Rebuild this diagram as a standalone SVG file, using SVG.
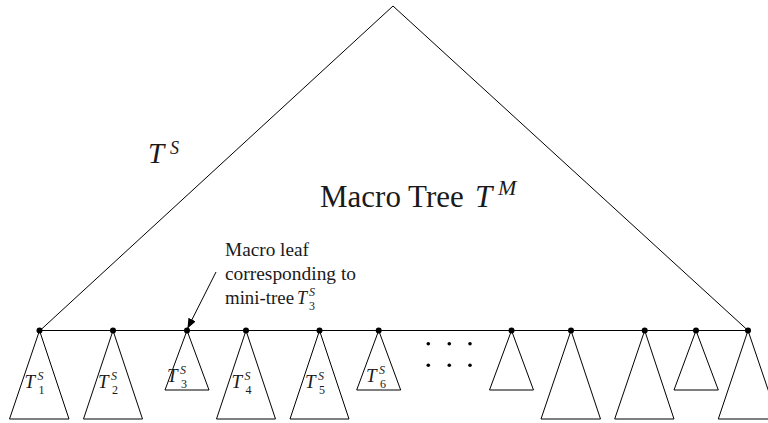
<svg xmlns="http://www.w3.org/2000/svg" width="768" height="423" viewBox="0 0 768 423">
<defs>
<style>
.ln{fill:none;stroke:#000;stroke-width:1;stroke-linejoin:miter}
.dot{fill:#000}
.t{font-family:"Liberation Serif","Times New Roman",serif;fill:#1a1a1a}
.sm{font-size:18px}
.lbl{font-size:19px;font-style:italic}
.sup{font-size:12px;font-style:italic}
.sub{font-size:12px;font-style:normal}
</style>
<marker id="ah" markerWidth="10" markerHeight="8" refX="10" refY="4" orient="auto" markerUnits="userSpaceOnUse">
<path d="M0,0 L10,4 L0,8 Z" fill="#000"/>
</marker>
</defs>
<rect width="768" height="423" fill="#fff"/>

<g id="macro-tree">
<path class="ln" d="M40,330.5 L393,6 L748,330.5 Z"/>
<text class="t"><tspan x="148" y="163" style="font-size:29px;font-style:italic">T</tspan><tspan x="170" y="154" style="font-size:18px;font-style:italic">S</tspan></text>
<text class="t"><tspan x="320" y="206.5" style="font-size:31px">Macro Tree</tspan><tspan x="475" y="206.5" style="font-size:31px;font-style:italic">T</tspan><tspan x="498" y="195" style="font-size:22px;font-style:italic">M</tspan></text>
</g>

<g id="mini-1">
<path class="ln" d="M39.5,330.5 L9.5,419 L69,419 Z"/>
<circle class="dot" cx="39.5" cy="330.5" r="3"/>
<text class="t"><tspan class="lbl" x="24.5" y="388">T</tspan><tspan class="sup" x="37.5" y="379.5">S</tspan><tspan class="sub" x="38.5" y="393.5">1</tspan></text>
</g>
<g id="mini-2">
<path class="ln" d="M113,330.5 L83.5,419 L142.5,419 Z"/>
<circle class="dot" cx="113" cy="330.5" r="3"/>
<text class="t"><tspan class="lbl" x="98" y="388">T</tspan><tspan class="sup" x="111" y="379.5">S</tspan><tspan class="sub" x="112" y="393.5">2</tspan></text>
</g>
<g id="mini-3">
<path class="ln" d="M187,330.5 L165,390 L209,390 Z"/>
<circle class="dot" cx="187" cy="330.5" r="3"/>
<text class="t"><tspan class="lbl" x="167" y="382">T</tspan><tspan class="sup" x="180" y="373.5">S</tspan><tspan class="sub" x="181" y="387.5">3</tspan></text>
</g>
<g id="mini-4">
<path class="ln" d="M246,330.5 L216.5,419 L275.5,419 Z"/>
<circle class="dot" cx="246" cy="330.5" r="3"/>
<text class="t"><tspan class="lbl" x="231.5" y="388">T</tspan><tspan class="sup" x="244.5" y="379.5">S</tspan><tspan class="sub" x="245.5" y="393.5">4</tspan></text>
</g>
<g id="mini-5">
<path class="ln" d="M319.5,330.5 L290,419 L349,419 Z"/>
<circle class="dot" cx="319.5" cy="330.5" r="3"/>
<text class="t"><tspan class="lbl" x="305" y="388">T</tspan><tspan class="sup" x="318" y="379.5">S</tspan><tspan class="sub" x="319" y="393.5">5</tspan></text>
</g>
<g id="mini-6">
<path class="ln" d="M378.7,330.5 L356.7,390 L400.7,390 Z"/>
<circle class="dot" cx="378.7" cy="330.5" r="3"/>
<text class="t"><tspan class="lbl" x="366" y="382">T</tspan><tspan class="sup" x="379" y="373.5">S</tspan><tspan class="sub" x="380" y="387.5">6</tspan></text>
</g>
<g id="ellipsis">
<circle class="dot" cx="428.3" cy="343.7" r="1.8"/>
<circle class="dot" cx="449.3" cy="343.7" r="1.8"/>
<circle class="dot" cx="470" cy="343.7" r="1.8"/>
<circle class="dot" cx="428.3" cy="365.3" r="1.8"/>
<circle class="dot" cx="449.3" cy="365.3" r="1.8"/>
<circle class="dot" cx="470" cy="365.3" r="1.8"/>
</g>
<g id="mini-7">
<path class="ln" d="M511.5,330.5 L489.5,390 L533.5,390 Z"/>
<circle class="dot" cx="511.5" cy="330.5" r="3"/>
</g>
<g id="mini-8">
<path class="ln" d="M571,330.5 L541,419 L600.5,419 Z"/>
<circle class="dot" cx="571" cy="330.5" r="3"/>
</g>
<g id="mini-9">
<path class="ln" d="M644.7,330.5 L614.7,419 L674,419 Z"/>
<circle class="dot" cx="644.7" cy="330.5" r="3"/>
</g>
<g id="mini-10">
<path class="ln" d="M696,330.5 L674,390 L718.3,390 Z"/>
<circle class="dot" cx="696" cy="330.5" r="3"/>
</g>
<g id="mini-11">
<path class="ln" d="M748,330.5 L718.3,419 L778,419 Z"/>
<circle class="dot" cx="748" cy="330.5" r="3"/>
</g>

<g id="annotation">
<text class="t sm" x="225" y="256" textLength="84" lengthAdjust="spacingAndGlyphs">Macro leaf</text>
<text class="t sm" x="225" y="280" textLength="131" lengthAdjust="spacingAndGlyphs">corresponding to</text>
<text class="t sm"><tspan x="225" y="304" textLength="69" lengthAdjust="spacingAndGlyphs">mini-tree</tspan><tspan x="297" y="304" style="font-style:italic">T</tspan><tspan x="309" y="296" style="font-size:12px;font-style:italic">S</tspan><tspan x="309" y="309.5" style="font-size:12px">3</tspan></text>
</g>

<g id="connectors">
<line x1="40" y1="330.5" x2="748" y2="330.5" class="ln"/>
<line x1="216" y1="272" x2="187.5" y2="328.5" class="ln" marker-end="url(#ah)"/>
</g>
</svg>
